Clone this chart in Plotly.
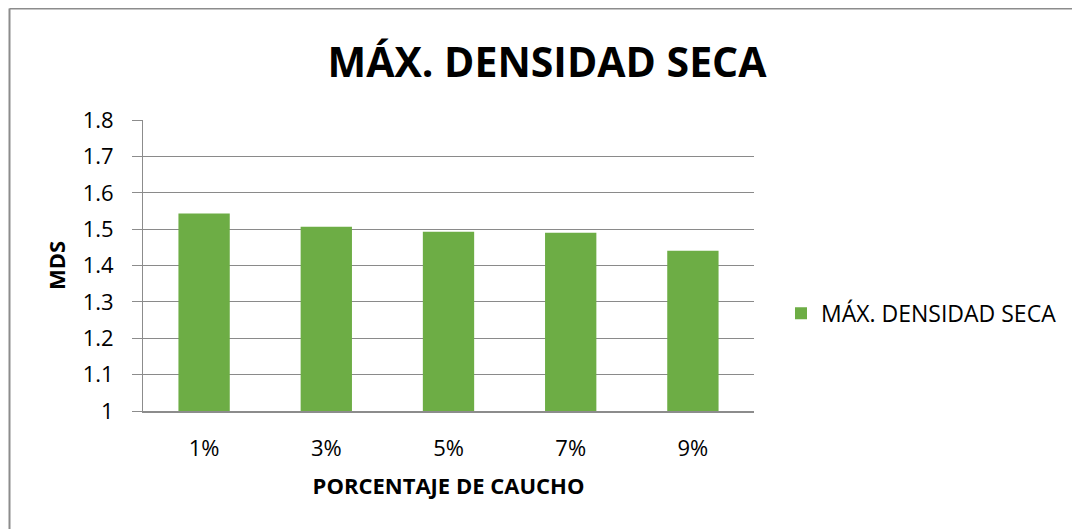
import plotly.graph_objects as go

categories = ["1%", "3%", "5%", "7%", "9%"]
mds_values = [1.543, 1.507, 1.493, 1.490, 1.441]
y_ticks = [1.0, 1.1, 1.2, 1.3, 1.4, 1.5, 1.6, 1.7, 1.8]
y_tick_labels = ["1", "1.1", "1.2", "1.3", "1.4", "1.5", "1.6", "1.7", "1.8"]

FONT = "Open Sans"
OFF = 8  # page body margin
W, H = 1080 - OFF, 529 - OFF
L = 143 - OFF
T = 120 - OFF
plot_right = 754 - OFF
plot_bottom = 410.7 - OFF
R = W - plot_right
B = H - plot_bottom
pw = W - L - R
ph = H - T - B

fig = go.Figure()
fig.add_trace(go.Bar(
    x=categories, y=mds_values, name="MÁX. DENSIDAD SECA",
    marker=dict(color="#6dad45", line=dict(width=0)),
))

fig.update_layout(
    width=W, height=H,
    margin=dict(l=L, r=R, t=T, b=B, autoexpand=False),
    paper_bgcolor="white", plot_bgcolor="white",
    bargap=0.58,
    showlegend=True,
    title=dict(text="<b>MÁX. DENSIDAD SECA</b>", x=(547 - OFF) / W, xanchor="center",
               y=1 - (63 - OFF) / H, yanchor="middle",
               font=dict(family=FONT, size=41, color="black")),
    legend=dict(x=(781 - OFF - L) / pw, xanchor="left",
                y=(plot_bottom - (313 - OFF)) / ph, yanchor="middle",
                font=dict(family=FONT, size=23, color="black"),
                bgcolor="rgba(0,0,0,0)", itemwidth=30),
    font=dict(family=FONT, color="black"),
)

fig.update_xaxes(
    showgrid=False, showline=True, linecolor="#8c8c8c", linewidth=2,
    ticks="", tickfont=dict(family=FONT, size=22, color="black"),
    ticklabelstandoff=17,
    title=dict(text="<b>PORCENTAJE DE CAUCHO</b>", font=dict(family=FONT, size=22, color="black"),
               standoff=17),
)
fig.update_yaxes(
    range=[1.0, 1.8005], tickvals=y_ticks, ticktext=y_tick_labels,
    showgrid=True, gridcolor="#8a8a8a", gridwidth=1,
    showline=True, linecolor="#8c8c8c", linewidth=1,
    ticks="outside", ticklen=10, tickcolor="#8c8c8c",
    tickfont=dict(family=FONT, size=22, color="black"),
    ticklabelstandoff=14,
    zeroline=False,
    title=dict(text="<b>MDS</b>", font=dict(family=FONT, size=22, color="black"), standoff=10),
)

# outer chart border (left and top edges visible in the reference)
bx = 9 - OFF + 0.5
by = 8 - OFF + 0.5
fig.add_shape(type="line", xref="paper", yref="paper",
              x0=(bx - L) / pw, x1=(W + 20 - L) / pw,
              y0=(plot_bottom - by) / ph, y1=(plot_bottom - by) / ph,
              line=dict(color="#8c8c8c", width=2))
fig.add_shape(type="line", xref="paper", yref="paper",
              x0=(bx - L) / pw, x1=(bx - L) / pw,
              y0=(plot_bottom - by) / ph, y1=(plot_bottom - H - 20) / ph,
              line=dict(color="#8c8c8c", width=2))

fig.write_html("out.html")
